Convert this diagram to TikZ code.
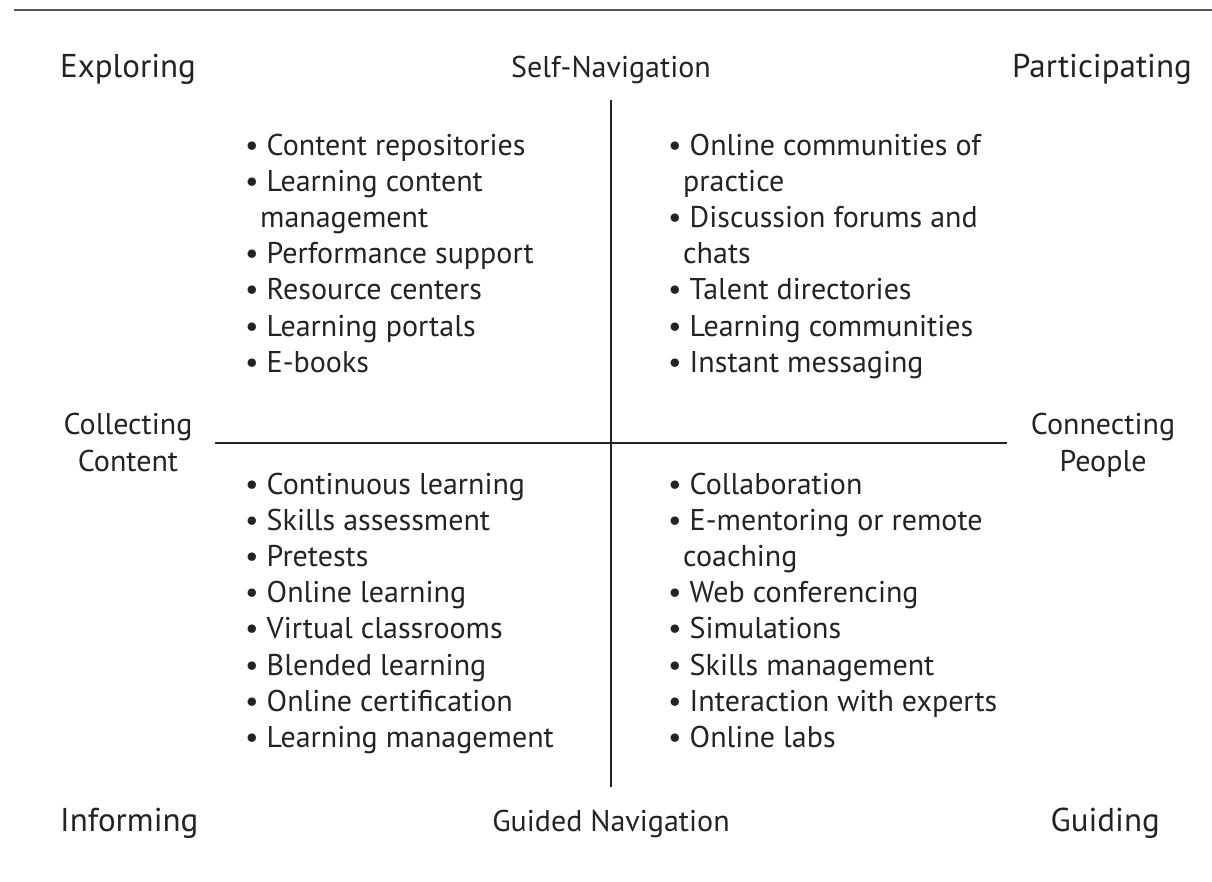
\documentclass[tikz,border=0pt]{standalone}
\usepackage{fontspec}
\setmainfont{PT Sans}
\usetikzlibrary{positioning}
\definecolor{ruleGray}{RGB}{85,85,85}
\definecolor{inkDark} {RGB}{35,35,35}

\begin{document}
\begin{tikzpicture}[x=1pt, y=-1pt,
    corner/.style={font=\fontsize{33}{37}\selectfont, text=inkDark, inner sep=0pt},
    axislabel/.style={font=\fontsize{30}{37}\selectfont, text=inkDark, inner sep=0pt, align=center},
    itemline/.style={font=\fontsize{30}{36}\selectfont, text=inkDark, inner sep=0pt, anchor=base west},
    axisline/.style={line width=1.6pt, inkDark}]
  \def\dy{36.2}   % line pitch of the lists
  \useasboundingbox (0,0) rectangle (1212,881);

  % ---- top rule ----
  \draw[ruleGray, line width=2.5pt] (14,10) -- (1212,10);

  % ---- corner labels ----
  \node[corner, anchor=base west] (explore) at (60,77)    {Exploring};
  \node[corner, anchor=base east] (partic)  at (1192,77)  {Participating};
  \node[corner, anchor=base west] (inform)  at (60,831)   {Informing};
  \node[corner, anchor=base east] (guide)   at (1160,831) {Guiding};

  % ---- axis labels ----
  \node[axislabel, anchor=base] (selfnav)   at (611,77)  {Self-Navigation};
  \node[axislabel, anchor=base] (guidednav) at (611,831) {Guided Navigation};
  \node[axislabel] (collect) at (128,442)  {Collecting\\Content};
  \node[axislabel] (connect) at (1103,445) {Connecting\\People};

  % ---- cross ----
  \coordinate (north) at (611,100);
  \coordinate (south) at (611,787);
  \coordinate (west)  at (215,443);
  \coordinate (east)  at (1007,443);
  \draw[axisline] (north) -- (south);
  \draw[axisline] (west) -- (east);

  % ---- upper left: content ----
  \foreach \txt [count=\i from 0] in {%
      {\textbullet\ Content repositories},
      {\textbullet\ Learning content},
      {\hspace*{15pt}management},
      {\textbullet\ Performance support},
      {\textbullet\ Resource centers},
      {\textbullet\ Learning portals},
      {\textbullet\ E-books}}
    \node[itemline] (ul\i) at (245,{155+\dy*\i}) {\txt};

  % ---- upper right: people ----
  \foreach \txt [count=\i from 0] in {%
      {\textbullet\ Online communities of},
      {\hspace*{15pt}practice},
      {\textbullet\ Discussion forums and},
      {\hspace*{15pt}chats},
      {\textbullet\ Talent directories},
      {\textbullet\ Learning communities},
      {\textbullet\ Instant messaging}}
    \node[itemline] (ur\i) at (668,{155+\dy*\i}) {\txt};

  % ---- lower left: informing ----
  \foreach \txt [count=\i from 0] in {%
      {\textbullet\ Continuous learning},
      {\textbullet\ Skills assessment},
      {\textbullet\ Pretests},
      {\textbullet\ Online learning},
      {\textbullet\ Virtual classrooms},
      {\textbullet\ Blended learning},
      {\textbullet\ Online certification},
      {\textbullet\ Learning management}}
    \node[itemline] (ll\i) at (245,{494+\dy*\i}) {\txt};

  % ---- lower right: guiding ----
  \foreach \txt [count=\i from 0] in {%
      {\textbullet\ Collaboration},
      {\textbullet\ E-mentoring or remote},
      {\hspace*{15pt}coaching},
      {\textbullet\ Web conferencing},
      {\textbullet\ Simulations},
      {\textbullet\ Skills management},
      {\textbullet\ Interaction with experts},
      {\textbullet\ Online labs}}
    \node[itemline] (lr\i) at (668,{494+\dy*\i}) {\txt};
\end{tikzpicture}
\end{document}
